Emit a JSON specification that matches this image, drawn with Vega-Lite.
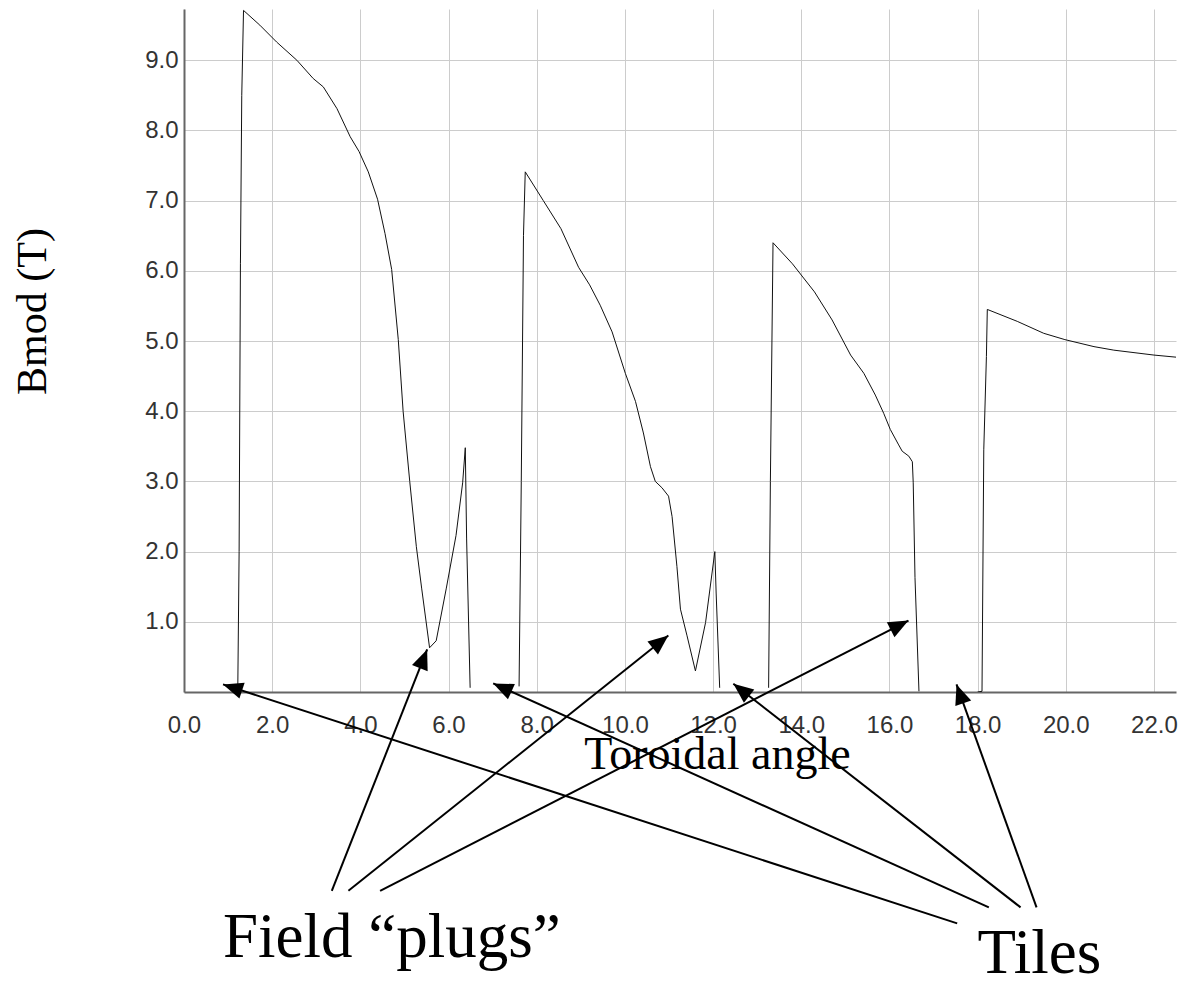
{
  "$schema": "https://vega.github.io/schema/vega-lite/v6.json",
  "autosize": "none",
  "padding": {"left": 184, "top": 9, "right": 20, "bottom": 290},
  "width": 992,
  "height": 683,
  "background": "white",
  "config": {"view": {"stroke": null}},
  "datasets": {
    "curve": [
      {"seg": "A", "x": 1.22, "y": 0.05}, {"seg": "A", "x": 1.25, "y": 2.0}, {"seg": "A", "x": 1.28, "y": 6.1}, {"seg": "A", "x": 1.31, "y": 8.5}, {"seg": "A", "x": 1.35, "y": 9.71},
      {"seg": "A", "x": 1.72, "y": 9.5}, {"seg": "A", "x": 2.1, "y": 9.26}, {"seg": "A", "x": 2.56, "y": 9.0}, {"seg": "A", "x": 2.93, "y": 8.74}, {"seg": "A", "x": 3.16, "y": 8.62},
      {"seg": "A", "x": 3.47, "y": 8.31}, {"seg": "A", "x": 3.77, "y": 7.91}, {"seg": "A", "x": 3.97, "y": 7.7}, {"seg": "A", "x": 4.18, "y": 7.41}, {"seg": "A", "x": 4.39, "y": 7.02},
      {"seg": "A", "x": 4.56, "y": 6.53}, {"seg": "A", "x": 4.71, "y": 6.02}, {"seg": "A", "x": 4.86, "y": 5.02}, {"seg": "A", "x": 4.97, "y": 4.0}, {"seg": "A", "x": 5.12, "y": 3.0},
      {"seg": "A", "x": 5.27, "y": 2.07}, {"seg": "A", "x": 5.39, "y": 1.48}, {"seg": "A", "x": 5.57, "y": 0.63}, {"seg": "A", "x": 5.72, "y": 0.73}, {"seg": "A", "x": 5.95, "y": 1.48},
      {"seg": "A", "x": 6.17, "y": 2.23}, {"seg": "A", "x": 6.32, "y": 2.98}, {"seg": "A", "x": 6.38, "y": 3.48}, {"seg": "A", "x": 6.41, "y": 2.18}, {"seg": "A", "x": 6.49, "y": 0.06},
      {"seg": "B", "x": 7.6, "y": 0.08}, {"seg": "B", "x": 7.65, "y": 3.0}, {"seg": "B", "x": 7.7, "y": 6.5}, {"seg": "B", "x": 7.74, "y": 7.41},
      {"seg": "B", "x": 8.15, "y": 7.0}, {"seg": "B", "x": 8.55, "y": 6.6}, {"seg": "B", "x": 8.95, "y": 6.05}, {"seg": "B", "x": 9.2, "y": 5.8}, {"seg": "B", "x": 9.44, "y": 5.51},
      {"seg": "B", "x": 9.71, "y": 5.13}, {"seg": "B", "x": 10.01, "y": 4.54}, {"seg": "B", "x": 10.24, "y": 4.14}, {"seg": "B", "x": 10.42, "y": 3.69}, {"seg": "B", "x": 10.58, "y": 3.21},
      {"seg": "B", "x": 10.69, "y": 3.0}, {"seg": "B", "x": 10.84, "y": 2.91}, {"seg": "B", "x": 10.99, "y": 2.79}, {"seg": "B", "x": 11.07, "y": 2.5}, {"seg": "B", "x": 11.18, "y": 1.79},
      {"seg": "B", "x": 11.26, "y": 1.18}, {"seg": "B", "x": 11.41, "y": 0.8}, {"seg": "B", "x": 11.6, "y": 0.3}, {"seg": "B", "x": 11.83, "y": 0.99}, {"seg": "B", "x": 12.04, "y": 2.0},
      {"seg": "B", "x": 12.07, "y": 1.41}, {"seg": "B", "x": 12.15, "y": 0.06},
      {"seg": "C", "x": 13.26, "y": 0.06}, {"seg": "C", "x": 13.3, "y": 3.0}, {"seg": "C", "x": 13.36, "y": 6.4},
      {"seg": "C", "x": 13.8, "y": 6.1}, {"seg": "C", "x": 14.3, "y": 5.7}, {"seg": "C", "x": 14.7, "y": 5.3}, {"seg": "C", "x": 15.12, "y": 4.8}, {"seg": "C", "x": 15.42, "y": 4.54},
      {"seg": "C", "x": 15.68, "y": 4.23}, {"seg": "C", "x": 15.87, "y": 3.97}, {"seg": "C", "x": 16.02, "y": 3.74}, {"seg": "C", "x": 16.21, "y": 3.52}, {"seg": "C", "x": 16.29, "y": 3.43},
      {"seg": "C", "x": 16.44, "y": 3.36}, {"seg": "C", "x": 16.52, "y": 3.28}, {"seg": "C", "x": 16.54, "y": 2.98}, {"seg": "C", "x": 16.58, "y": 1.63}, {"seg": "C", "x": 16.67, "y": 0.01},
      {"seg": "D", "x": 18.0, "y": 0.0}, {"seg": "D", "x": 18.1, "y": 0.01}, {"seg": "D", "x": 18.14, "y": 3.45}, {"seg": "D", "x": 18.2, "y": 4.78}, {"seg": "D", "x": 18.22, "y": 5.45},
      {"seg": "D", "x": 18.9, "y": 5.28}, {"seg": "D", "x": 19.5, "y": 5.11}, {"seg": "D", "x": 19.98, "y": 5.02}, {"seg": "D", "x": 20.64, "y": 4.92}, {"seg": "D", "x": 21.09, "y": 4.87},
      {"seg": "D", "x": 22.0, "y": 4.8}, {"seg": "D", "x": 22.5, "y": 4.77}
    ],
    "arrows": [
      {"id": "P1", "x1": 3.352, "y1": -2.832, "x2": 5.515, "y2": 0.606},
      {"id": "P2", "x1": 3.729, "y1": -2.832, "x2": 10.985, "y2": 0.805},
      {"id": "P3", "x1": 4.448, "y1": -2.832, "x2": 16.432, "y2": 1.018},
      {"id": "T1", "x1": 17.537, "y1": -3.296, "x2": 0.885, "y2": 0.108},
      {"id": "T2", "x1": 18.255, "y1": -3.068, "x2": 7.013, "y2": 0.122},
      {"id": "T3", "x1": 18.974, "y1": -3.068, "x2": 12.46, "y2": 0.118},
      {"id": "T4", "x1": 19.337, "y1": -3.068, "x2": 17.522, "y2": 0.108}
    ],
    "labels": [
      {"text": "Field “plugs”", "x": 0.885, "y": -3.775},
      {"text": "Tiles", "x": 18.0, "y": -4.0}
    ]
  },
  "layer": [
    {
      "data": {"name": "curve"},
      "mark": {"type": "line", "color": "#111111", "strokeWidth": 1, "clip": true},
      "encoding": {
        "x": {
          "field": "x", "type": "quantitative", "title": "Toroidal angle",
          "scale": {"domain": [0, 22.5], "nice": false, "zero": false},
          "axis": {
            "title": "Toroidal angle",
            "values": [0, 2, 4, 6, 8, 10, 12, 14, 16, 18, 20, 22],
            "format": ".1f",
            "labelFont": "Liberation Sans", "labelFontSize": 24, "labelColor": "#333333",
            "labelPadding": 21, "labelFlush": false, "labelOverlap": false,
            "ticks": false, "tickSize": 0,
            "domainColor": "#666666", "domainWidth": 2,
            "grid": true, "gridColor": "#cccccc", "gridWidth": 1,
            "titleFont": "Liberation Serif", "titleFontSize": 46, "titleFontWeight": "normal", "titleColor": "#000000",
            "titleX": 533, "titleY": 76, "titleAlign": "center", "titleBaseline": "alphabetic"
          }
        },
        "y": {
          "field": "y", "type": "quantitative", "title": "Bmod (T)",
          "scale": {"domain": [0, 9.73], "nice": false, "zero": false},
          "axis": {
            "title": "Bmod (T)",
            "values": [1, 2, 3, 4, 5, 6, 7, 8, 9],
            "format": ".1f",
            "labelFont": "Liberation Sans", "labelFontSize": 24, "labelColor": "#333333",
            "labelPadding": 6, "labelOverlap": false,
            "ticks": false, "tickSize": 0,
            "domainColor": "#666666", "domainWidth": 2,
            "grid": true, "gridColor": "#cccccc", "gridWidth": 1,
            "titleFont": "Liberation Serif", "titleFontSize": 42, "titleFontWeight": "normal", "titleColor": "#000000",
            "titleAngle": 270, "titleX": -139, "titleY": 302, "titleAlign": "center", "titleBaseline": "alphabetic"
          }
        },
        "detail": {"field": "seg", "type": "nominal"}
      }
    },
    {
      "data": {"name": "arrows"},
      "mark": {"type": "rule", "color": "#000000", "strokeWidth": 2, "strokeCap": "butt", "clip": false},
      "encoding": {
        "x": {"field": "x1", "type": "quantitative", "title": "Toroidal angle", "scale": {"domain": [0, 22.5], "nice": false, "zero": false}},
        "y": {"field": "y1", "type": "quantitative", "title": "Bmod (T)", "scale": {"domain": [0, 9.73], "nice": false, "zero": false}},
        "x2": {"field": "x2"},
        "y2": {"field": "y2"}
      }
    },
    {
      "data": {"name": "arrows"},
      "mark": {"type": "point", "shape": "M0,0L0.42,1L-0.42,1Z", "filled": true, "color": "#000000", "opacity": 1, "size": 1600, "strokeWidth": 0, "clip": false},
      "encoding": {
        "x": {"field": "x2", "type": "quantitative", "title": "Toroidal angle", "scale": {"domain": [0, 22.5], "nice": false, "zero": false}},
        "y": {"field": "y2", "type": "quantitative", "title": "Bmod (T)", "scale": {"domain": [0, 9.73], "nice": false, "zero": false}},
        "angle": {
          "field": "id", "type": "nominal",
          "scale": {"type": "ordinal", "domain": ["P1", "P2", "P3", "T1", "T2", "T3", "T4"], "range": [21.5, 51.3, 62.9, 288.1, 294.4, 308.0, 340.3]},
          "legend": null
        }
      }
    },
    {
      "data": {"name": "labels"},
      "mark": {"type": "text", "font": "Liberation Serif", "fontSize": 63, "color": "#000000", "align": "left", "baseline": "alphabetic", "clip": false},
      "encoding": {
        "x": {"field": "x", "type": "quantitative", "title": "Toroidal angle", "scale": {"domain": [0, 22.5], "nice": false, "zero": false}},
        "y": {"field": "y", "type": "quantitative", "title": "Bmod (T)", "scale": {"domain": [0, 9.73], "nice": false, "zero": false}},
        "text": {"field": "text"}
      }
    }
  ]
}
